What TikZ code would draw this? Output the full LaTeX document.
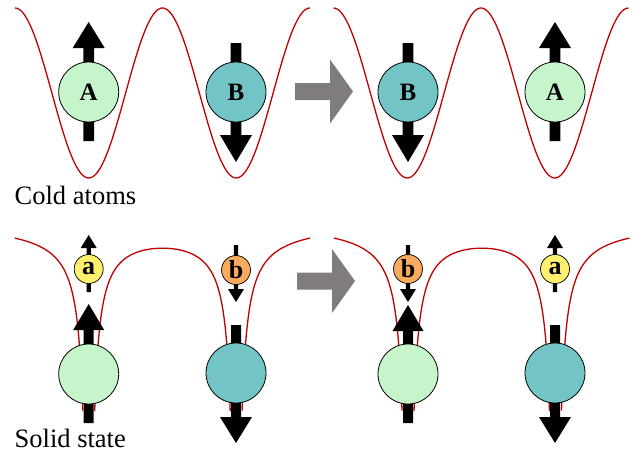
\documentclass[tikz,border=0pt]{standalone}
\usepackage{fontspec}
\setmainfont{Liberation Serif}
\definecolor{potred}{RGB}{192,0,0}
\definecolor{ballgreen}{RGB}{198,244,203}
\definecolor{ballteal}{RGB}{115,197,197}
\definecolor{ballyellow}{RGB}{255,240,110}
\definecolor{ballorange}{RGB}{248,170,94}
\definecolor{swapgray}{RGB}{128,124,123}
\tikzset{
  potline/.style={draw=potred, line width=1.3pt},
  bigball/.style={circle, draw=black, line width=0.8pt, minimum size=60pt, inner sep=0pt, font=\fontsize{25}{27}\selectfont\bfseries},
  smallball/.style={circle, draw=black, line width=0.7pt, minimum size=29pt, inner sep=0pt, font=\fontsize{26}{28}\selectfont\bfseries},
  caption/.style={anchor=base west, inner sep=0pt, font=\fontsize{26.5}{30}\selectfont},
}
% #1 x, #2 tail y, #3 head base y, #4 tip y, #5 shaft half width, #6 head half width
\newcommand{\spinarrow}[6]{\fill[black] (#1-#5,#2) -- (#1+#5,#2) -- (#1+#5,#3) -- (#1+#6,#3) -- (#1,#4) -- (#1-#6,#3) -- (#1-#5,#3) -- cycle;}
% #1 x start, #2 centre y
\newcommand{\swaparrow}[2]{\fill[swapgray] (#1,#2-8.5) -- (#1+35,#2-8.5) -- (#1+35,#2-32) -- (#1+58,#2) -- (#1+35,#2+32) -- (#1+35,#2+8.5) -- (#1,#2+8.5) -- cycle;}
\newcommand{\wellcurve}[1]{%
 \draw[potline] plot[variable=\t,domain=4.3041:1.7918,samples=40] ({#1-exp(\t)},{218+1112/exp(\t)+1112/(147.5+exp(\t))});
 \draw[potline] plot[variable=\t,domain=1.7918:4.3007,samples=40] ({#1+exp(\t)},{218+1112/exp(\t)+1112/(147.5-exp(\t))}) -- plot[variable=\t,domain=4.3007:1.7918,samples=40] ({#1+147.5-exp(\t)},{218+1112/exp(\t)+1112/(147.5-exp(\t))});
 \draw[potline] plot[variable=\t,domain=1.7918:4.3041,samples=40] ({#1+147.5+exp(\t)},{218+1112/exp(\t)+1112/(147.5+exp(\t))});
}
\begin{document}
\begin{tikzpicture}[x=1pt,y=-1pt]
\useasboundingbox (0,0) rectangle (639,453);
% ---------- top row: cold atoms ----------
\draw[potline] plot[domain=0:295, samples=160, variable=\u] ({15+\u},{93-85*cos(2.440678*\u)});
\draw[potline] plot[domain=0:295, samples=160, variable=\u] ({333.5+\u},{93-85*cos(2.440678*\u)});
\spinarrow{88.7}{141}{48}{22}{5.3}{16}
\spinarrow{236}{43}{135}{162}{5.3}{16}
\spinarrow{408}{43}{135}{162}{5.3}{16}
\spinarrow{555}{141}{48}{22}{5.3}{16}
\node[bigball, fill=ballgreen] (A1) at (88.7,92) {A};
\node[bigball, fill=ballteal] (B1) at (236,92) {B};
\node[bigball, fill=ballteal] (B2) at (408,92) {B};
\node[bigball, fill=ballgreen] (A2) at (555,92) {A};
\swaparrow{295}{91.5}
\node[caption] (cold) at (14.5,204) {Cold atoms};
% ---------- bottom row: solid state ----------
\wellcurve{88.7}
\wellcurve{408}
\spinarrow{88.7}{292}{248}{235}{2.2}{8}
\spinarrow{236}{245}{289}{302}{2.2}{8}
\spinarrow{408}{245}{289}{302}{2.2}{8}
\spinarrow{555}{292}{248}{235}{2.2}{8}
\node[smallball, fill=ballyellow] (a1) at (88.7,269) {a};
\node[smallball, fill=ballorange] (b1) at (236,270) {b};
\node[smallball, fill=ballorange] (b2) at (408,269) {b};
\node[smallball, fill=ballyellow] (a2) at (555,269) {a};
\spinarrow{88.7}{423}{330}{304}{5}{15.5}
\spinarrow{236}{325}{417}{443}{5}{16}
\spinarrow{408}{423}{331}{305}{5}{15.5}
\spinarrow{555}{325}{417}{443}{5}{16}
\node[bigball, fill=ballgreen] (C1) at (88.7,374) {};
\node[bigball, fill=ballteal] (D1) at (236,373) {};
\node[bigball, fill=ballgreen] (C2) at (408,374) {};
\node[bigball, fill=ballteal] (D2) at (555,373) {};
\swaparrow{297}{281}
\node[caption] (solid) at (14.5,447) {Solid state};
\end{tikzpicture}
\end{document}
